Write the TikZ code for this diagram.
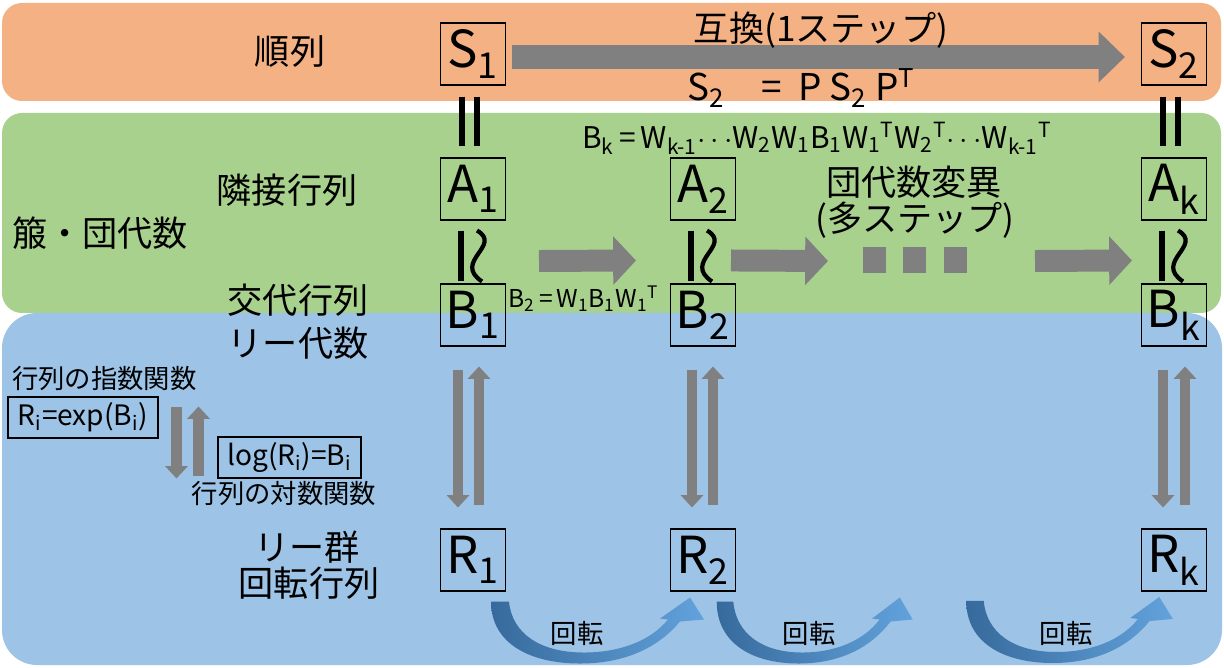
\documentclass[tikz,border=0pt]{standalone}
\usepackage{fontspec}
\setmainfont{Noto Sans CJK JP}
\usetikzlibrary{arrows.meta}

\definecolor{bandorange}{RGB}{244,177,131}
\definecolor{bandgreen}{RGB}{169,209,142}
\definecolor{bandblue}{RGB}{157,195,230}
\definecolor{arrowgray}{RGB}{128,128,128}
\definecolor{rotdark}{RGB}{55,106,156}
\definecolor{rotlight}{RGB}{98,162,220}

\newcommand{\lowidx}[1]{\textsubscript{#1}}
\newcommand{\highidx}[1]{\textsuperscript{#1}}

% curved rotation arrow, #1 = start coordinate, #2 = horizontal stretch
\newcommand{\rotswoosh}[2]{%
  \shade[left color=rotdark, right color=rotlight, shift={(#1)}, xscale=#2]
    (-9,0) .. controls (-9,42) and (30,62) .. (80,62)
    .. controls (128,62) and (160,44) .. (180,20)
    -- (204,18) -- (190,-4) -- (160,17) -- (168,18)
    .. controls (151,39) and (120,51) .. (84,51)
    .. controls (40,51) and (12,32) .. (9,0) -- cycle;}

\begin{document}
\begin{tikzpicture}[x=0.02cm, y=-0.02cm,
    jp/.style={font=\fontsize{20}{24}\selectfont},
    jpsmall/.style={font=\fontsize{15}{18}\selectfont},
    mat/.style={draw, line width=0.6pt, minimum width=1.3cm, minimum height=1.24cm,
      inner sep=0pt, font=\fontsize{29}{32}\selectfont},
    fbox/.style={draw, line width=0.6pt, minimum height=0.82cm, inner sep=0pt,
      font=\fontsize{16}{18}\selectfont},
    eqbar/.style={line width=3.4pt, black},
    wave/.style={line width=2.4pt, black},
    bigarrow/.style={draw=arrowgray, line width=13.6pt, -{Triangle[length=15pt,width=28pt]}},
    greenarrow/.style={draw=arrowgray, line width=12.5pt, -{Triangle[length=13pt,width=27pt]}},
    thinarrow/.style={draw=arrowgray, line width=6.2pt, -{Triangle[length=7pt,width=12.5pt]}}]

  \useasboundingbox (0,0) rectangle (1224,668);

  % Background bands
  \fill[bandorange, rounded corners=0.4cm] (2,3) rectangle (1221,101);
  \fill[bandgreen, rounded corners=0.4cm] (2,113) rectangle (1221,313);
  \fill[bandblue, rounded corners=0.7cm] (2,313) rectangle (1222,665);

  % Row labels
  \node[jp] (lblPerm) at (290,52) {順列};
  \node[jp] (lblAdj) at (287,190) {隣接行列};
  \node[jp] (lblQuiver) at (100,233) {箙・団代数};
  \node[jp] (lblAlt) at (298,300) {交代行列};
  \node[jp] (lblLieAlg) at (298,343) {リー代数};
  \node[jp] (lblLieGrp) at (307,547) {リー群};
  \node[jp] (lblRotMat) at (309,583) {回転行列};

  % Matrix boxes
  \node[mat] (S1) at (473,54) {S\lowidx{1}};
  \node[mat] (S2) at (1174,54) {S\lowidx{2}};
  \foreach \c/\x in {1/473, 2/703, k/1174} {
      \node[mat] (A\c) at (\x,189) {A\lowidx{\c}};
      \node[mat] (B\c) at (\x,315) {B\lowidx{\c}};
      \node[mat] (R\c) at (\x,560) {R\lowidx{\c}};
  }

  % Permutation step
  \draw[bigarrow] ([shift={(6,3)}]S1.east) -- ([shift={(-16,3)}]S2.west);
  \node[jp] (lblSwap) at (821,30) {互換(1ステップ)};
  \node[font=\fontsize{21}{24}\selectfont] (eqS) at (801,88)
      {S\lowidx{2}\quad=\ \ P S\lowidx{2} P\highidx{T}};

  % Equalities between rows
  \foreach \u/\v in {S1/A1, S2/Ak} {
      \draw[eqbar] ([shift={(-11,11)}]\u.south) -- ([shift={(-11,-11)}]\v.north);
      \draw[eqbar] ([shift={(4,11)}]\u.south) -- ([shift={(4,-11)}]\v.north);
  }
  \foreach \c in {1,2,k} {
      \draw[eqbar] ([shift={(-12,10)}]A\c.south) -- ([shift={(-12,-2)}]B\c.north);
      \draw[wave] ([shift={(4,10)}]A\c.south) .. controls +(26,15) and +(-30,-20)
          .. ([shift={(9,-2)}]B\c.north);
  }

  % Mutation steps
  \node[font=\fontsize{17}{19}\selectfont] (eqBk) at (817,138)
      {B\lowidx{k}\,=\,W\lowidx{k-1}$\cdots$W\lowidx{2}W\lowidx{1}B\lowidx{1}W\lowidx{1}\highidx{T}W\lowidx{2}\highidx{T}$\cdots$W\lowidx{k-1}\highidx{T}};
  \node[font=\fontsize{14}{16}\selectfont, anchor=west, inner sep=0pt] (eqB2) at (508,299)
      {B\lowidx{2}\,=\,W\lowidx{1}B\lowidx{1}W\lowidx{1}\highidx{T}};
  \node[jp] (lblMut) at (914,182) {団代数変異};
  \node[jp] (lblMulti) at (915,220) {(多ステップ)};
  \coordinate (m2out) at (828,261);
  \coordinate (mkin) at (1035,261);
  \draw[greenarrow] (539,261) -- ([shift={(-67,-23)}]B2.north);
  \draw[greenarrow] ([shift={(28,-23)}]B2.north) -- (m2out);
  \draw[greenarrow] (mkin) -- ([shift={(-42,-23)}]Bk.north);
  \foreach \x in {863,903,944} {
      \fill[arrowgray] (\x,247) rectangle ++(23,26);
  }

  % Exponential and logarithm
  \node[jpsmall, anchor=west] (lblExp) at (6,379) {行列の指数関数};
  \node[fbox, minimum width=3cm] (expbox) at (83,417.5) {R\lowidx{i}=exp(B\lowidx{i})};
  \node[fbox, minimum width=2.86cm] (logbox) at (289.5,457.5) {log(R\lowidx{i})=B\lowidx{i}};
  \node[jpsmall] (lblLog) at (284,494) {行列の対数関数};
  \draw[thinarrow] ([shift={(18,11)}]expbox.north east) -- ([shift={(18,82)}]expbox.north east);
  \draw[thinarrow] ([shift={(40,80)}]expbox.north east) -- ([shift={(40,10)}]expbox.north east);
  \foreach \c/\dx/\ux in {1/-15/6, 2/-11/10, k/-11/11} {
      \draw[thinarrow] ([shift={(\dx,23)}]B\c.south) -- ([shift={(\dx,-21)}]R\c.north);
      \draw[thinarrow] ([shift={(\ux,-23)}]R\c.north) -- ([shift={(\ux,20)}]B\c.south);
  }

  % Rotations
  \coordinate (rot1) at ([shift={(27,10)}]R1.south);
  \coordinate (rot2) at ([shift={(22,10)}]R2.south);
  \coordinate (rot3) at (975,601);
  \rotswoosh{rot1}{1}
  \rotswoosh{rot2}{0.92}
  \rotswoosh{rot3}{0.97}
  \foreach \x/\n in {577/1, 809/2, 1066/3} {
      \node[font=\fontsize{15}{18}\selectfont] (lblTurn\n) at (\x,633) {回転};
  }
\end{tikzpicture}
\end{document}
